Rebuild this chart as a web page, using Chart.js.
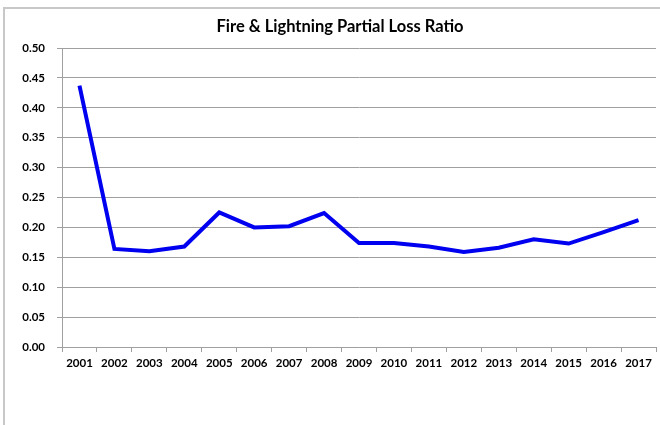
<!DOCTYPE html>
<html>
<head>
<meta charset="utf-8">
<script src="https://cdn.jsdelivr.net/npm/chart.js@4/dist/chart.umd.min.js"></script>
<style>
  html, body { margin: 0; padding: 0; background: #fff; }
  #wrap { position: relative; width: 660px; height: 425px; }
  #frame { position: absolute; left: 3px; top: 7px; right: -2px; bottom: -2px; border-left: 2px solid #c8c8c8; border-top: 2px solid #c8c8c8; pointer-events: none; }
  canvas { position: absolute; left: 0; top: 0; }
</style>
</head>
<body>
<div id="wrap">
  <canvas id="c" width="660" height="425"></canvas>
  <div id="frame"></div>
</div>
<script>
const chartTitle = "Fire & Lightning Partial Loss Ratio";
const years = ["2001","2002","2003","2004","2005","2006","2007","2008","2009","2010","2011","2012","2013","2014","2015","2016","2017"];
const lossRatio = [0.437, 0.164, 0.160, 0.168, 0.225, 0.200, 0.202, 0.224, 0.174, 0.174, 0.168, 0.159, 0.166, 0.180, 0.173, 0.192, 0.212];
const yMin = 0, yMax = 0.5, yStep = 0.05;

const titlePlugin = {
  id: 'manualTitle',
  afterDraw(chart) {
    const ctx = chart.ctx;
    ctx.save();
    ctx.font = "bold 16.5px Lato, 'Open Sans', sans-serif";
    ctx.fillStyle = '#000';
    ctx.textAlign = 'center';
    ctx.textBaseline = 'middle';
    ctx.fillText(chartTitle, 340, 27);
    ctx.restore();
  }
};

new Chart(document.getElementById('c'), {
  type: 'line',
  data: {
    labels: years,
    datasets: [{
      data: lossRatio,
      borderColor: '#0000f0',
      borderWidth: 4,
      pointRadius: 0,
      tension: 0,
      fill: false,
      borderJoinStyle: 'miter'
    }]
  },
  options: {
    responsive: false,
    animation: false,
    layout: { padding: { top: 48, right: 4, left: 0, bottom: 0 } },
    plugins: { legend: { display: false }, title: { display: false }, tooltip: { enabled: false } },
    scales: {
      x: {
        offset: true,
        grid: { offset: true, drawOnChartArea: false, drawTicks: true, tickLength: 5, color: '#a0a0a0' },
        border: { color: '#a0a0a0', width: 1 },
        ticks: { color: '#000', font: { family: "Lato, 'Open Sans', sans-serif", size: 11.5, weight: 'bold' }, padding: 4, maxRotation: 0, autoSkip: false },
        afterFit(s) { s.height = 78; }
      },
      y: {
        min: yMin, max: yMax,
        grid: { color: '#a0a0a0', tickLength: 5, lineWidth: 1 },
        border: { color: '#a0a0a0', width: 1 },
        ticks: { stepSize: yStep, color: '#000', padding: 12, font: { family: "Lato, 'Open Sans', sans-serif", size: 11.5, weight: 'bold' }, callback: v => Number(v).toFixed(2) },
        afterFit(s) { s.width = 62; }
      }
    }
  },
  plugins: [titlePlugin]
});
</script>
</body>
</html>
